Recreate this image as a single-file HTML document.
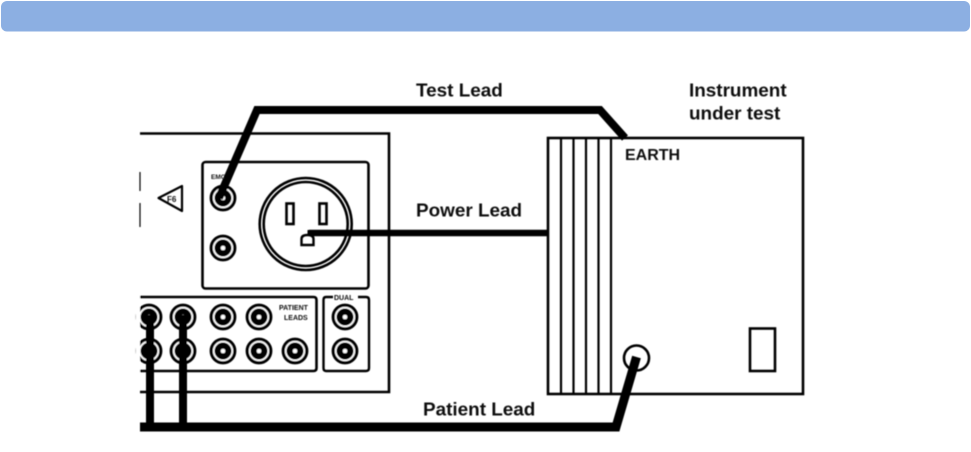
<!DOCTYPE html>
<html><head><meta charset="utf-8"><style>
html,body{margin:0;padding:0;background:#fff;width:971px;height:452px;overflow:hidden}
svg{display:block}
text{font-family:"Liberation Sans",sans-serif;font-weight:bold;fill:#111}
</style></head><body>
<svg width="971" height="452" viewBox="0 0 971 452" xmlns="http://www.w3.org/2000/svg">
<defs>
<filter id="b" x="-5%" y="-5%" width="110%" height="110%"><feGaussianBlur stdDeviation="0.45"/></filter>
<g id="c"><circle r="11.800" fill="#fff" stroke="#000" stroke-width="3.200"/><circle r="8.500" fill="#000"/><circle r="2.300" fill="#fff"/></g>
</defs>
<rect x="1" y="1" width="969" height="30.5" rx="6" fill="#8cafe2"/>
<g filter="url(#b)">
<g fill="none" stroke="#000">
<path d="M140 133.5H389V392H140" stroke-width="2.600"/>
<rect x="202.500" y="162" width="166" height="126.500" rx="3" stroke-width="2.600"/>
<path d="M140 297H313.500Q316.500 297 316.500 300V368Q316.500 371 313.500 371H140" stroke-width="2.600"/>
<path d="M333 297H326Q323.500 297 323.500 300V368Q323.500 371 326 371H366Q369 371 369 368V300Q369 297 366 297H358" stroke-width="2.400"/>
<circle cx="305.700" cy="224" r="46" stroke-width="2.600"/>
<circle cx="305.700" cy="224" r="42" stroke-width="2.600"/>
<rect x="286.500" y="203.500" width="7" height="20.500" stroke-width="2.600"/>
<rect x="319.500" y="203.500" width="7" height="20.500" stroke-width="2.600"/>
<path d="M301.500 245V239Q301.500 235 307.500 235Q313.500 235 313.500 239V245Z" stroke-width="2.400"/>
<path d="M158.500 198L182 186V211Z" stroke-width="2.200" stroke-linejoin="round"/>
<path d="M140 172V191M140 203V227" stroke-width="1.200"/>
<rect x="548" y="138" width="255" height="256" stroke-width="2.600"/>
<path d="M561 138V394M573.500 138V394M586 138V394M598.500 138V394M611 138V394" stroke-width="2.200"/>
<circle cx="636.500" cy="358" r="12.500" stroke-width="2.600"/>
<rect x="750" y="328.500" width="25" height="42.500" stroke-width="2.600"/>
</g>
<use href="#c" x="223" y="198"/><use href="#c" x="223" y="248"/>
<use href="#c" x="149" y="317"/><use href="#c" x="183" y="317"/><use href="#c" x="223" y="317"/><use href="#c" x="259" y="317"/>
<use href="#c" x="149" y="351"/><use href="#c" x="183" y="351"/><use href="#c" x="223" y="351"/><use href="#c" x="259" y="351"/><use href="#c" x="295" y="351"/>
<use href="#c" x="345" y="317"/><use href="#c" x="345" y="351"/>
<rect x="136" y="290" width="4" height="95" fill="#fff"/>
<g fill="none" stroke="#000" stroke-linejoin="miter">
<path d="M219 198L257 110H600L625 138" stroke-width="8"/>
<path d="M309 233H548" stroke-width="6.500"/>
<path d="M309 230V236" stroke-width="3"/>
<path d="M150 315V427M183 315V427" stroke-width="8"/>
<path d="M140 427H616L636.500 357" stroke-width="9"/>
</g>
<text x="416" y="96.500" font-size="18.900">Test Lead</text>
<text x="689" y="96.500" font-size="18.900">Instrument</text>
<text x="689" y="119.500" font-size="18.900">under test</text>
<text x="625" y="160" font-size="16">EARTH</text>
<text x="416" y="216.500" font-size="18.900">Power Lead</text>
<text x="423" y="415.500" font-size="18.900">Patient Lead</text>
<text x="211" y="179" font-size="6.500" fill="#444">EMC</text>
<text x="167" y="202" font-size="8">F6</text>
<text x="279" y="310" font-size="7">PATIENT</text>
<text x="284" y="320" font-size="7">LEADS</text>
<text x="334" y="300" font-size="7">DUAL</text>
</g>
</svg>
</body></html>
